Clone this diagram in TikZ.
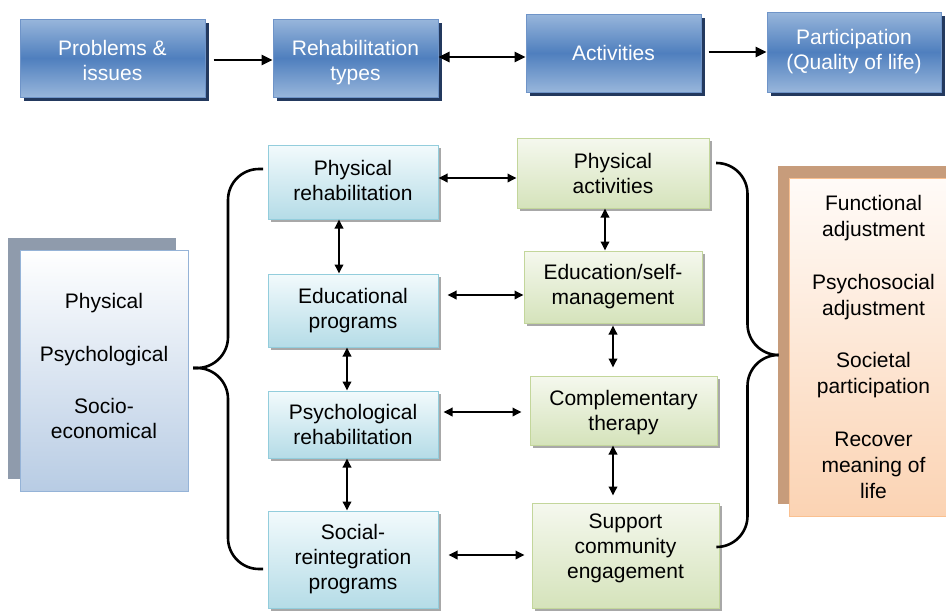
\documentclass[tikz,border=0pt]{standalone}
\usepackage{fontspec}
\setmainfont{Liberation Sans}
\usetikzlibrary{arrows.meta,shadows}
\definecolor{tbl}{HTML}{98B6DB}
\definecolor{tbd}{HTML}{4F7FBE}
\definecolor{tbb}{HTML}{6F94C8}
\definecolor{tbs}{HTML}{23395E}
\definecolor{cyt}{HTML}{F2FAFC}
\definecolor{cyb}{HTML}{B5DCE7}
\definecolor{cybd}{HTML}{93CDDC}
\definecolor{grt}{HTML}{F5F8EE}
\definecolor{grb}{HTML}{D5E3BB}
\definecolor{grbd}{HTML}{C3D69B}
\definecolor{gsh}{HTML}{A8A8A8}
\definecolor{lbt}{HTML}{FFFFFF}
\definecolor{lbb}{HTML}{B8CCE4}
\definecolor{lbbd}{HTML}{95B3D7}
\definecolor{lbsh}{HTML}{8F9BAC}
\definecolor{ort}{HTML}{FFFBF8}
\definecolor{orb}{HTML}{FBD3B3}
\definecolor{orbd}{HTML}{FAC090}
\definecolor{orsh}{HTML}{C79C7B}
\newcommand\myfs{\fontsize{21}{25}\selectfont}
\newcommand\myfsr{\fontsize{21}{26}\selectfont}
\begin{document}
\begin{tikzpicture}[x=1pt,y=-1pt,
  basebox/.style={inner sep=0pt, align=center, font=\myfs},
  topbox/.style={basebox, draw=tbb, line width=1pt, top color=tbl, bottom color=tbl, middle color=tbd, text=white,
     drop shadow={shadow xshift=4pt, shadow yshift=-4pt, fill=tbs, opacity=1}},
  cybox/.style={basebox, draw=cybd, line width=1pt, top color=cyt, bottom color=cyb,
     drop shadow={shadow xshift=2.5pt, shadow yshift=-2.5pt, fill=gsh, opacity=1}},
  grbox/.style={basebox, draw=grbd, line width=1pt, top color=grt, bottom color=grb,
     drop shadow={shadow xshift=2.5pt, shadow yshift=-2.5pt, fill=gsh, opacity=1}},
  leftbox/.style={basebox, draw=lbbd, line width=1pt, top color=lbt, bottom color=lbb,
     drop shadow={shadow xshift=-12pt, shadow yshift=12pt, fill=lbsh, opacity=1}},
  rightbox/.style={basebox, font=\myfsr, draw=orbd, line width=1pt, top color=ort, bottom color=orb,
     drop shadow={shadow xshift=-11pt, shadow yshift=12pt, fill=orsh, opacity=1}},
  bigar/.style={line width=2.5pt, -{Triangle[length=11pt,width=10pt]}},
  bigdar/.style={line width=2.5pt, {Triangle[length=11pt,width=10pt]}-{Triangle[length=11pt,width=10pt]}},
  dar/.style={line width=1.8pt, {Triangle[length=9pt,width=8.5pt]}-{Triangle[length=9pt,width=8.5pt]}},
  bracestyle/.style={line width=2.6pt, rounded corners=31pt}
]
\useasboundingbox (0,0) rectangle (946,611);

% top row
\node[topbox, minimum width=185pt, minimum height=78pt, text height=46pt] (prob) at (112.5,58) {Problems \&\\issues};
\node[topbox, minimum width=165pt, minimum height=78pt, text height=49pt] (rtype) at (355.5,58) {Rehabilitation\\types};
\node[topbox, minimum width=175pt, minimum height=78pt] (act) at (613.5,53) {Activities};
\node[topbox, minimum width=174pt, minimum height=80pt] (part) at (854,52) {Participation\\(Quality of life)};

\draw[bigar, shorten <=8pt] (prob.east |- 0,60) -- (rtype.west |- 0,60);
\draw[bigdar] (rtype.east |- 0,57) -- (act.west |- 0,57);
\draw[bigar, shorten <=7pt] (act.east |- 0,52) -- (part.west |- 0,52);

% left box
\node[leftbox, minimum width=168pt, minimum height=241pt, text depth=10pt] (lb) at (104,370.5)
  {Physical\\[28pt]Psychological\\[27pt]Socio-\\economical};

% right box
\node[rightbox, minimum width=169pt, minimum height=338pt] (rb) at (873.5,347)
  {Functional\\adjustment\\[27pt]Psychosocial\\adjustment\\[26pt]Societal\\participation\\[27pt]Recover\\meaning of\\life};

% middle cyan column
\node[cybox, minimum width=170pt, minimum height=74pt, text depth=4pt] (prh) at (353,182) {Physical\\rehabilitation};
\node[cybox, minimum width=170pt, minimum height=73pt] (edp) at (353,310.5) {Educational\\programs};
\node[cybox, minimum width=170pt, minimum height=67pt] (psr) at (353,424.5) {Psychological\\rehabilitation};
\node[cybox, minimum width=170pt, minimum height=97pt] (sri) at (353,559.5) {Social-\\reintegration\\programs};

% green column
\node[grbox, minimum width=192pt, minimum height=70pt] (pha) at (613,173) {Physical\\activities};
\node[grbox, minimum width=178pt, minimum height=72pt] (eds) at (613,287) {Education/self-\\management};
\node[grbox, minimum width=187pt, minimum height=69pt, text height=45pt] (cth) at (623.5,410.5) {Complementary\\therapy};
\node[grbox, minimum width=187pt, minimum height=105pt, text depth=19pt] (sce) at (625.5,555.5) {Support\\community\\engagement};

% vertical arrows
\draw[dar] (prh.south -| 339,0) -- (edp.north -| 339,0);
\draw[dar] (edp.south -| 347,0) -- (psr.north -| 347,0);
\draw[dar] (psr.south -| 347,0) -- (sri.north -| 347,0);
\draw[dar] (pha.south -| 605,0) -- (eds.north -| 605,0);
\draw[dar, shorten <=2pt, shorten >=8pt] (eds.south -| 613,0) -- (cth.north -| 613,0);
\draw[dar, shorten >=7pt] (cth.south -| 613,0) -- (sce.north -| 613,0);

% horizontal arrows
\draw[dar] (prh.east |- 0,178) -- (pha.west |- 0,178);
\draw[dar, shorten <=9pt] (edp.east |- 0,295) -- (eds.west |- 0,295);
\draw[dar, shorten <=5pt, shorten >=8pt] (psr.east |- 0,412) -- (cth.west |- 0,412);
\draw[dar, shorten <=10pt, shorten >=7pt] (sri.east |- 0,555) -- (sce.west |- 0,555);

% braces
\draw[bracestyle] (263,169) -- (228,169) -- (228,368) -- (193,368);
\draw[bracestyle] (193,368) -- (228,368) -- (228,569) -- (263,569);
\draw[bracestyle] (716,163) -- (747.5,163) -- (747.5,355) -- (778,355);
\draw[bracestyle] (778,355) -- (747.5,355) -- (747.5,547) -- (717,547);
\end{tikzpicture}
\end{document}
